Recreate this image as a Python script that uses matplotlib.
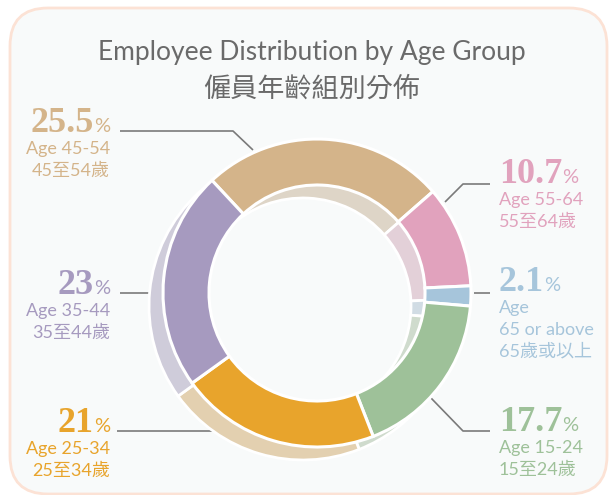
import matplotlib.pyplot as plt
from matplotlib.patches import FancyBboxPatch

# Data (clockwise from the top-left)
pct_labels = ['25.5', '10.7', '2.1', '17.7', '21', '23']
shares = [25.5, 10.7, 2.1, 17.7, 21, 23]
groups_en = ['Age 45-54', 'Age 55-64', 'Age\n65 or above', 'Age 15-24', 'Age 25-34', 'Age 35-44']
groups_zh = ['45至54歲', '55至64歲', '65歲或以上', '15至24歲', '25至34歲', '35至44歲']

colors = ['#D4B48A', '#E1A2BD', '#A6C5DB', '#9EC199', '#E8A42C', '#A69ABF']
shadow_colors = ['#DED5C7', '#E3D0D8', '#D1DCE4', '#CFDBCD', '#E3D0B0', '#CFCCDA']

W, H = 615, 495
LATIN = ['Lato', 'Noto Sans CJK TC']
NUMFONT = 'Liberation Serif'


def Y(y):
    # convert from top-down pixel position
    return H - y


fig = plt.figure(figsize=(6.15, 4.95), dpi=100)
fig.patch.set_facecolor('white')
ax = fig.add_axes([0, 0, 1, 1])

# background card
card = FancyBboxPatch((10, Y(494)), 597, 486, boxstyle='round,pad=0,rounding_size=38',
                      facecolor='#F8FAFA', edgecolor='#FCE2D5', linewidth=2, zorder=0)
ax.add_patch(card)

cx, cy = 317, Y(293)
R, width = 154, 46

# shadow ring
sh, _ = ax.pie(shares, colors=shadow_colors, startangle=133, counterclock=False,
               radius=R, center=(cx - 14, cy - 13),
               wedgeprops=dict(width=width, edgecolor='white', linewidth=2))
for w in sh:
    w.set_zorder(2)

# main ring
wedges, _ = ax.pie(shares, colors=colors, startangle=133, counterclock=False,
                   radius=R, center=(cx, cy),
                   wedgeprops=dict(width=width, edgecolor='white', linewidth=2.2))
for w in wedges:
    w.set_zorder(3)

ax.set_xlim(0, W)
ax.set_ylim(0, H)
ax.set_aspect('auto')
ax.axis('off')

# titles
ax.text(312, Y(60), 'Employee Distribution by Age Group', ha='center', va='baseline',
        fontsize=19, color='#6A6A6A', family=LATIN)
ax.text(312, Y(97), '僱員年齡組別分佈', ha='center', va='baseline',
        fontsize=19.5, color='#6A6A6A', family=['Noto Sans CJK TC'])

# label layout: side, anchor x, baseline of the number
label_pos = [('left', 110, 132), ('right', 499, 183), ('right', 499, 291),
             ('right', 499, 431), ('left', 110, 432), ('left', 110, 294)]

# leader lines
leaders = [
    [(120, 131), (233, 131), (253, 150)],
    [(490, 184), (463, 184), (445, 202)],
    [(474, 293), (490, 293)],
    [(490, 431), (463, 431), (431, 398)],
    [(117, 431), (232, 431), (236, 425)],
    [(120, 293), (162, 293)],
]
for pts in leaders:
    ax.plot([p[0] for p in pts], [Y(p[1]) for p in pts], color='#7A7A7A',
            linewidth=1.2, zorder=1, solid_capstyle='butt')

fig.canvas.draw()
renderer = fig.canvas.get_renderer()
inv = ax.transData.inverted()

for i, (side, x, base) in enumerate(label_pos):
    col = colors[i]
    if side == 'left':
        pct = ax.text(x, Y(base), '%', ha='right', va='baseline', fontsize=14.5,
                      color=col, family=LATIN)
        bb = pct.get_window_extent(renderer)
        x0 = inv.transform((bb.x0, 0))[0]
        ax.text(x0, Y(base), pct_labels[i], ha='right', va='baseline',
                fontsize=26, fontweight='bold', color=col, family=NUMFONT)
        ha = 'right'
    else:
        num = ax.text(x, Y(base), pct_labels[i], ha='left', va='baseline',
                      fontsize=26, fontweight='bold', color=col, family=NUMFONT)
        bb = num.get_window_extent(renderer)
        x1 = inv.transform((bb.x1, 0))[0]
        ax.text(x1, Y(base), '%', ha='left', va='baseline', fontsize=14.5,
                color=col, family=LATIN)
        ha = 'left'
    lines = groups_en[i].split('\n') + [groups_zh[i]]
    for k, line in enumerate(lines):
        ax.text(x, Y(base + 22 + 22 * k), line, ha=ha, va='baseline',
                fontsize=13, color=col, family=LATIN)

fig.savefig('out.png', dpi=100)
